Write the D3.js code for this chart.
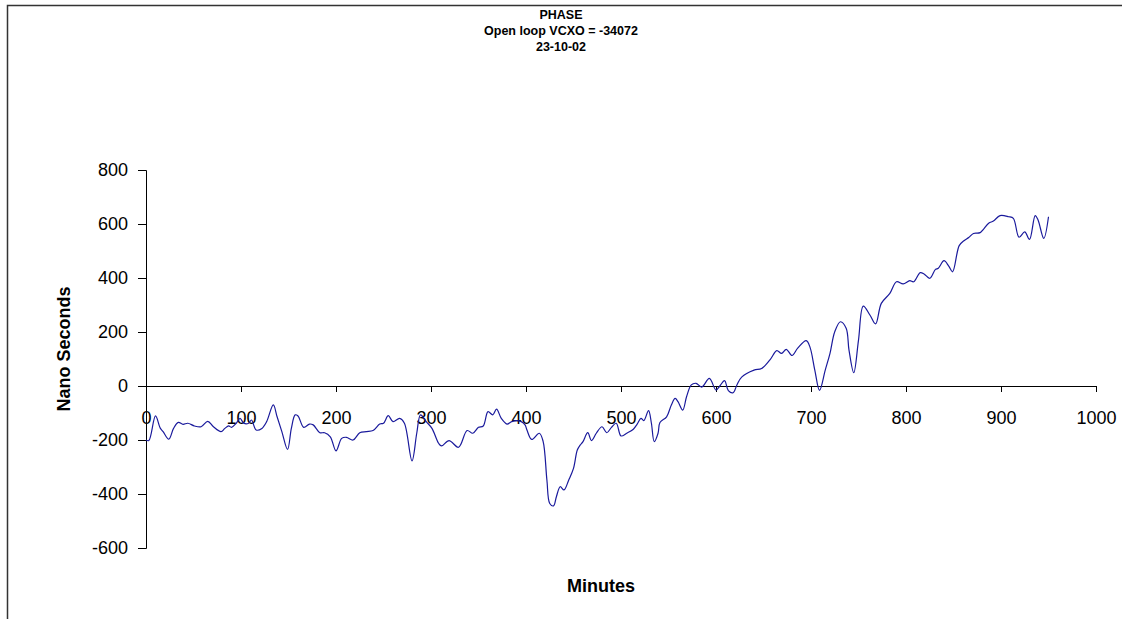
<!DOCTYPE html>
<html>
<head>
<meta charset="utf-8">
<script src="https://cdn.jsdelivr.net/npm/d3@7"></script>
<style>
  html, body { margin: 0; padding: 0; overflow: hidden; background: #fff; }
  svg { display: block; }
  text { font-family: "Liberation Sans", Arial, sans-serif; }
</style>
</head>
<body>
<svg id="chart" width="1122" height="619"></svg>
<script>
// title lines
const titleLines = ['PHASE', 'Open loop VCXO = -34072', '23-10-02'];

// phase samples
const minutes = [0, 3, 10, 15, 18, 24, 29, 34, 39, 44, 51, 58, 65, 71, 79, 83, 87, 90, 95, 99,
  103, 108, 111, 116, 122, 127, 134, 138, 143, 149, 153, 157, 160, 166, 172, 176, 183, 188, 194, 200,
  206, 211, 218, 225, 232, 239, 246, 250, 255, 260, 267, 272, 280, 285, 289, 295, 301, 308, 311, 319,
  329, 338, 344, 350, 355, 360, 365, 369, 374, 380, 385, 390, 395, 399, 401, 406, 414, 418, 422, 425,
  429, 432, 436, 440, 445, 450, 454, 457, 460, 465, 469, 474, 480, 485, 490, 495, 500, 506, 513, 517,
  521, 524, 529, 532, 535, 539, 541, 548, 553, 557, 560, 565, 569, 574, 579, 585, 593, 600, 604, 609,
  613, 618, 622, 627, 640, 648, 657, 664, 669, 674, 680, 686, 695, 699, 704, 709, 715, 720, 725, 731,
  737, 740, 745, 750, 755, 762, 768, 774, 783, 790, 797, 804, 808, 815, 819, 825, 831, 834, 840, 845,
  849, 856, 861, 866, 871, 878, 887, 892, 899, 908, 913, 919, 925, 930, 936, 939, 945, 950];
const nanoSeconds = [-200, -202, -111, -156, -169, -197, -157, -135, -142, -138, -148, -151, -131, -151, -169, -157, -148, -153, -138, -120,
  -138, -138, -126, -163, -157, -132, -70, -114, -169, -235, -157, -107, -111, -153, -141, -144, -173, -173, -188, -240,
  -194, -190, -200, -173, -169, -165, -141, -138, -110, -132, -120, -138, -277, -175, -107, -132, -157, -212, -222, -202,
  -227, -165, -175, -153, -148, -95, -107, -86, -120, -141, -132, -128, -132, -144, -163, -198, -175, -205, -348, -435,
  -444, -410, -373, -385, -348, -305, -237, -219, -206, -173, -202, -175, -151, -173, -153, -138, -185, -175, -160, -141,
  -120, -128, -91, -138, -206, -175, -135, -114, -70, -46, -58, -89, -40, 4, 10, -4, 28, -15, 0, 20,
  -17, -25, 4, 33, 59, 65, 98, 131, 121, 136, 113, 140, 168, 143, 59, -16, 59, 121, 201, 238,
  214, 133, 49, 170, 296, 263, 230, 306, 343, 386, 378, 390, 386, 420, 415, 399, 432, 436, 464, 444,
  423, 520, 538, 550, 565, 568, 603, 611, 631, 627, 621, 551, 571, 543, 631, 615, 547, 627];

const xTicks = [0, 100, 200, 300, 400, 500, 600, 700, 800, 900, 1000];
const yTicks = [-600, -400, -200, 0, 200, 400, 600, 800];

const svg = d3.select('#chart');

// outer frame: only the top and left edges are inside the picture
svg.append('path')
  .attr('d', 'M7.5,619V5.5H1122')
  .attr('fill', 'none')
  .attr('stroke', '#333')
  .attr('stroke-width', 1.5);

const xScale = d3.scaleLinear().domain([0, 1000]).range([146, 1096]);
const yScale = d3.scaleLinear().domain([-600, 800]).range([548, 170]);

// title
svg.append('g').selectAll('text').data(titleLines).join('text')
  .attr('x', 561)
  .attr('y', (d, i) => 19 + i * 16)
  .attr('text-anchor', 'middle')
  .attr('font-size', 12.5)
  .attr('font-weight', 'bold')
  .text(d => d);

// y axis
const yAxis = d3.axisLeft(yScale).tickValues(yTicks).tickSize(8).tickPadding(10).tickFormat(d => String(d));
const yAxisG = svg.append('g')
  .attr('transform', `translate(${xScale(0)},0)`)
  .call(yAxis);
yAxisG.select('.domain').attr('stroke', '#000');
yAxisG.selectAll('.tick line').attr('stroke', '#000');
yAxisG.selectAll('.tick text')
  .attr('font-size', 18)
  .attr('font-family', '"Liberation Sans", Arial, sans-serif')
  .attr('fill', '#000');

// x axis sits at y = 0
const xAxis = d3.axisBottom(xScale).tickValues(xTicks).tickSizeInner(6).tickSizeOuter(6).tickFormat(d => String(d));
const xAxisG = svg.append('g')
  .attr('transform', `translate(0,${yScale(0)})`)
  .call(xAxis);
xAxisG.select('.domain').attr('stroke', '#000');
xAxisG.selectAll('.tick line').attr('stroke', '#000');
xAxisG.selectAll('.tick text')
  .attr('font-size', 18)
  .attr('font-family', '"Liberation Sans", Arial, sans-serif')
  .attr('fill', '#000')
  .attr('dy', null)
  .attr('y', 38);

// axis titles
svg.append('text')
  .attr('transform', `translate(70,${(yScale(800) + yScale(-600)) / 2 - 10}) rotate(-90)`)
  .attr('text-anchor', 'middle')
  .attr('font-size', 18)
  .attr('font-weight', 'bold')
  .text('Nano Seconds');

svg.append('text')
  .attr('x', 601)
  .attr('y', 592)
  .attr('text-anchor', 'middle')
  .attr('font-size', 18)
  .attr('font-weight', 'bold')
  .text('Minutes');

// phase line
const line = d3.line()
  .x((d, i) => xScale(minutes[i]))
  .y(d => yScale(d))
  .curve(d3.curveCatmullRom.alpha(0.5));

svg.append('path')
  .datum(nanoSeconds)
  .attr('fill', 'none')
  .attr('stroke', '#1a1a9c')
  .attr('stroke-width', 1.2)
  .attr('d', line);
</script>
</body>
</html>
